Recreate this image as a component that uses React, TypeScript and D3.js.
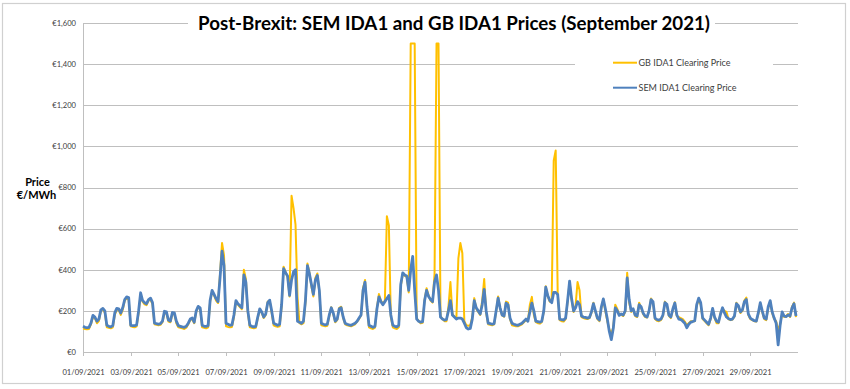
import React from 'react';
import * as d3 from 'd3';

// Two-hourly readings (00,02,...,22h) for each day of September 2021, €/MWh
const semValues: number[] = [
  125, 120, 118, 120, 140, 178, 170, 150, 160, 205, 212, 200, // 01
  130, 125, 122, 128, 190, 212, 210, 190, 215, 255, 268, 265, // 02
  130, 128, 128, 132, 200, 288, 250, 240, 235, 255, 262, 240, // 03
  140, 138, 135, 138, 150, 198, 195, 155, 150, 192, 190, 150, // 04
  128, 125, 122, 120, 125, 140, 160, 165, 145, 200, 222, 215, // 05
  130, 125, 125, 128, 250, 300, 280, 260, 245, 360, 490, 420, // 06
  140, 135, 130, 132, 180, 250, 235, 225, 215, 375, 340, 200, // 07
  130, 125, 122, 125, 170, 210, 195, 170, 185, 240, 252, 200, // 08
  140, 135, 130, 135, 230, 405, 385, 370, 275, 350, 390, 400, // 09
  150, 145, 140, 150, 250, 420, 380, 330, 280, 350, 372, 300, // 10
  140, 135, 132, 135, 180, 215, 190, 150, 160, 210, 215, 170, // 11
  140, 135, 132, 130, 135, 140, 150, 165, 180, 300, 340, 220, // 12
  130, 125, 120, 125, 210, 268, 245, 230, 245, 260, 275, 180, // 13
  130, 125, 122, 130, 330, 385, 375, 370, 300, 400, 465, 300, // 14
  160, 150, 145, 148, 250, 300, 270, 255, 245, 340, 375, 300, // 15
  170, 160, 155, 158, 200, 250, 180, 170, 160, 165, 165, 160, // 16
  140, 118, 112, 115, 160, 250, 215, 200, 185, 230, 305, 200, // 17
  140, 138, 135, 138, 200, 262, 215, 180, 175, 238, 230, 165, // 18
  140, 135, 132, 130, 135, 140, 150, 160, 150, 195, 238, 200, // 19
  150, 148, 145, 150, 200, 315, 275, 250, 240, 290, 290, 280, // 20
  160, 158, 155, 165, 250, 345, 260, 200, 215, 245, 230, 175, // 21
  170, 168, 165, 168, 195, 235, 200, 165, 155, 220, 258, 210, // 22
  160, 100, 60, 115, 215, 200, 178, 185, 180, 200, 360, 255, // 23
  200, 210, 180, 175, 230, 220, 190, 175, 170, 200, 255, 245, // 24
  165, 158, 155, 160, 180, 240, 232, 180, 170, 210, 238, 180, // 25
  160, 158, 150, 140, 118, 135, 145, 148, 152, 230, 262, 240, // 26
  165, 155, 145, 135, 165, 212, 170, 150, 145, 185, 215, 190, // 27
  170, 162, 158, 160, 175, 235, 225, 195, 205, 245, 255, 185, // 28
  165, 158, 152, 150, 190, 240, 200, 165, 160, 220, 250, 195, // 29
  165, 140, 35, 130, 195, 175, 172, 180, 175, 215, 235, 175, // 30
];

const gbValues: number[] = [
  115, 112, 110, 112, 135, 170, 165, 140, 150, 200, 210, 190, // 01
  120, 118, 115, 120, 180, 205, 205, 180, 205, 250, 262, 255, // 02
  125, 122, 120, 125, 190, 280, 245, 232, 228, 250, 255, 232, // 03
  135, 132, 130, 132, 145, 190, 188, 148, 145, 185, 185, 140, // 04
  120, 118, 115, 112, 118, 135, 155, 160, 140, 195, 220, 208, // 05
  120, 118, 115, 120, 245, 295, 275, 250, 238, 380, 530, 470, // 06
  125, 122, 120, 122, 170, 245, 230, 218, 208, 400, 355, 190, // 07
  120, 118, 115, 118, 165, 205, 190, 165, 180, 245, 250, 190, // 08
  130, 125, 122, 125, 220, 415, 390, 365, 270, 760, 700, 620, // 09
  270, 140, 135, 140, 240, 430, 385, 320, 270, 360, 382, 290, // 10
  130, 128, 125, 128, 175, 218, 185, 145, 155, 215, 220, 165, // 11
  135, 130, 128, 125, 130, 135, 148, 160, 178, 310, 350, 215, // 12
  120, 115, 112, 118, 215, 282, 250, 235, 250, 660, 615, 170, // 13
  120, 115, 112, 120, 320, 380, 370, 365, 290, 1500, 1500, 1500, // 14
  165, 150, 140, 142, 255, 310, 275, 250, 240, 380, 1500, 1500, // 15
  175, 160, 150, 150, 220, 340, 185, 170, 165, 455, 530, 480, // 16
  150, 130, 128, 130, 170, 262, 210, 195, 180, 250, 355, 190, // 17
  135, 132, 130, 135, 195, 270, 215, 178, 172, 245, 240, 160, // 18
  130, 128, 125, 125, 130, 135, 145, 155, 150, 230, 268, 180, // 19
  145, 140, 138, 145, 195, 320, 270, 245, 260, 930, 980, 290, // 20
  155, 150, 148, 160, 245, 340, 255, 195, 225, 340, 300, 170, // 21
  165, 162, 160, 165, 190, 240, 195, 160, 150, 215, 255, 200, // 22
  150, 110, 90, 120, 230, 210, 180, 180, 175, 195, 385, 240, // 23
  195, 205, 175, 170, 240, 215, 185, 170, 168, 198, 260, 240, // 24
  160, 152, 150, 155, 175, 245, 228, 175, 165, 205, 242, 175, // 25
  170, 165, 160, 148, 130, 140, 150, 150, 150, 225, 255, 230, // 26
  160, 150, 140, 130, 160, 205, 165, 140, 140, 190, 210, 200, // 27
  195, 160, 155, 158, 172, 240, 220, 190, 200, 250, 265, 180, // 28
  160, 155, 150, 148, 185, 235, 195, 160, 155, 215, 245, 190, // 29
  160, 150, 105, 135, 185, 170, 175, 185, 170, 220, 240, 170, // 30
];

const xTickLabels: string[] = [
  '01/09/2021', '03/09/2021', '05/09/2021', '07/09/2021', '09/09/2021',
  '11/09/2021', '13/09/2021', '15/09/2021', '17/09/2021', '19/09/2021',
  '21/09/2021', '23/09/2021', '25/09/2021', '27/09/2021', '29/09/2021',
];
const yTicks: number[] = [0, 200, 400, 600, 800, 1000, 1200, 1400, 1600];
const seriesNames: string[] = ['GB IDA1 Clearing Price', 'SEM IDA1 Clearing Price'];
const titleText = 'Post-Brexit: SEM IDA1 and GB IDA1 Prices (September 2021)';

const STEP_HOURS = 2;
const start = Date.UTC(2021, 8, 1);
const toDate = (i: number) => new Date(start + i * STEP_HOURS * 3600 * 1000);

export default function App() {
  const W = 850, H = 389;
  const x = d3.scaleUtc().domain([new Date(start), new Date(Date.UTC(2021, 9, 1))]).range([83, 798]);
  const y = d3.scaleLinear().domain([0, 1600]).range([352, 23]);
  const line = d3.line<number>().x((_, i) => x(toDate(i))).y((v) => y(v));
  const gbPath = line(gbValues) || '';
  const semPath = line(semValues) || '';
  const fmt = d3.format(',');
  const font = 'Lato, "Liberation Sans", sans-serif';
  const gbColor = '#FFC000';
  const semColor = '#4F81BD';
  const grid = '#BFBFBF';

  return (
    <svg width={W} height={H} style={{ position: 'absolute', left: 0, top: 0 }} fontFamily={font}>
      <rect x={2.5} y={3.5} width={843} height={380} fill="#fff" stroke="#D0D0D0" strokeWidth={1.2} />
      {yTicks.filter((t) => t > 0).map((t) => (
        <line key={t} x1={83} x2={798} y1={Math.round(y(t)) + 0.5} y2={Math.round(y(t)) + 0.5} stroke={grid} strokeWidth={1} />
      ))}
      <line x1={83.5} x2={83.5} y1={y(1600)} y2={352} stroke={grid} strokeWidth={1} />
      <line x1={83} x2={798} y1={352.5} y2={352.5} stroke={grid} strokeWidth={1} />
      {xTickLabels.map((lab, i) => {
        const xp = Math.round(x(new Date(start + i * 2 * 86400000))) + 0.5;
        return (
          <g key={lab}>
            <line x1={xp} x2={xp} y1={352} y2={356} stroke={grid} strokeWidth={1} />
            <text x={xp} y={375} textAnchor="middle" fontSize={7.6} fill="#404040">{lab}</text>
          </g>
        );
      })}
      {yTicks.map((t) => (
        <text key={t} x={76} y={y(t) + 2.8} textAnchor="end" fontSize={7.6} fill="#404040">{'€' + fmt(t)}</text>
      ))}
      <path d={gbPath} fill="none" stroke={gbColor} strokeWidth={2} strokeLinejoin="round" />
      <path d={semPath} fill="none" stroke={semColor} strokeWidth={2.8} strokeLinejoin="round" />
      {/* title */}
      <rect x={188} y={8} width={527} height={30} fill="#fff" />
      <text x={454} y={30} textAnchor="middle" fontSize={19.5} fontWeight="bold" fill="#000" textLength={512} lengthAdjust="spacingAndGlyphs">{titleText}</text>
      {/* legend */}
      <rect x={575} y={50} width={198} height={50} fill="#fff" />
      {seriesNames.map((n, i) => (
        <g key={n}>
          <line x1={613} x2={637} y1={62.7 + i * 25} y2={62.7 + i * 25} stroke={i === 0 ? gbColor : semColor} strokeWidth={2} />
          <text x={638.5} y={65.8 + i * 25} fontSize={9} fill="#404040">{n}</text>
        </g>
      ))}
      {/* y-axis title */}
      <text x={37.5} y={185.5} textAnchor="middle" fontSize={11} fontWeight="bold" fill="#000">Price</text>
      <text x={36.5} y={199} textAnchor="middle" fontSize={11} fontWeight="bold" fill="#000">€/MWh</text>
    </svg>
  );
}
